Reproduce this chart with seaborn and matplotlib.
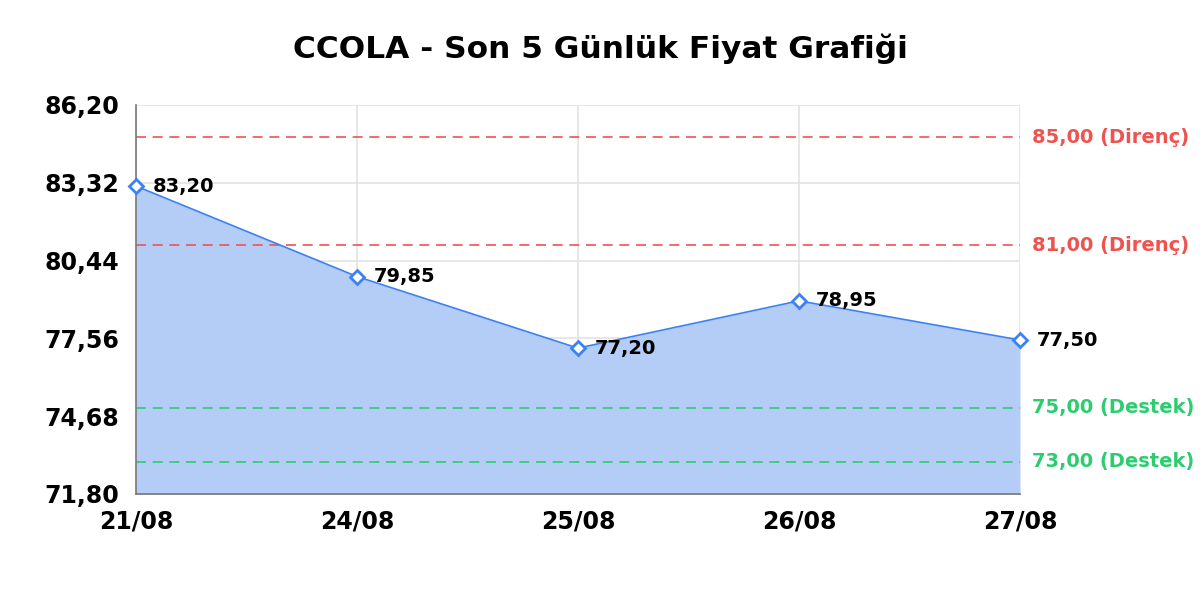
import numpy as np
import pandas as pd
import seaborn as sns
import matplotlib.pyplot as plt

# --- data ---
dates = ['21/08', '24/08', '25/08', '26/08', '27/08']
prices = [83.20, 79.85, 77.20, 78.95, 77.50]
resistance = [85.00, 81.00]
support = [75.00, 73.00]
y_ticks = [71.80, 74.68, 77.56, 80.44, 83.32, 86.20]

df = pd.DataFrame({'pos': range(len(dates)), 'price': prices})

sns.set_theme(style='white')
plt.rcParams['font.family'] = 'sans-serif'
plt.rcParams['font.sans-serif'] = ['DejaVu Sans']
plt.rcParams['text.color'] = 'black'

line_color = '#3b82f6'
fill_color = '#b3cdf7'
red = '#ef5350'
green = '#2ecc71'

fig, ax = plt.subplots(figsize=(12, 6), dpi=100)
fig.subplots_adjust(left=0.1133, right=0.85, top=0.825, bottom=0.1767)

ymin, ymax = y_ticks[0], y_ticks[-1]

# area under the price line
ax.fill_between(df['pos'], df['price'], ymin, color=fill_color, lw=0, zorder=1)
sns.lineplot(data=df, x='pos', y='price', ax=ax, color=line_color, lw=1.2,
             marker='D', markersize=7, markerfacecolor='white',
             markeredgecolor=line_color, markeredgewidth=2, zorder=4, clip_on=False)

# value labels
for x, y in zip(df['pos'], df['price']):
    ax.annotate(f'{y:.2f}'.replace('.', ','), (x, y), xytext=(12, 0),
                textcoords='offset points', va='center', ha='left',
                fontsize=14, fontweight='bold', color='black', zorder=5)

# support / resistance lines
for lvl in resistance:
    ax.axhline(lvl, color=red, ls=(0, (6, 4)), lw=1.2, zorder=2)
    ax.annotate(f'{lvl:.2f}'.replace('.', ',') + ' (Direnç)', (1, lvl),
                xycoords=('axes fraction', 'data'), xytext=(9, 0),
                textcoords='offset points', va='center', ha='left',
                fontsize=14, fontweight='bold', color=red)
for lvl in support:
    ax.axhline(lvl, color=green, ls=(0, (6, 4)), lw=1.2, zorder=2)
    ax.annotate(f'{lvl:.2f}'.replace('.', ',') + ' (Destek)', (1, lvl),
                xycoords=('axes fraction', 'data'), xytext=(9, 0),
                textcoords='offset points', va='center', ha='left',
                fontsize=14, fontweight='bold', color=green)

ax.set_xlim(0, len(dates) - 1)
ax.set_ylim(ymin, ymax)
ax.set_xticks(range(len(dates)))
ax.set_xticklabels(dates)
ax.set_yticks(y_ticks)
ax.set_yticklabels([f'{v:.2f}'.replace('.', ',') for v in y_ticks])
ax.tick_params(axis='both', length=0, labelsize=17, labelcolor='black')
ax.tick_params(axis='y', pad=12)
ax.tick_params(axis='x', pad=11)
for lab in ax.get_xticklabels() + ax.get_yticklabels():
    lab.set_fontweight('bold')
ax.set_xlabel('')
ax.set_ylabel('')

ax.grid(True, color='#e3e3e3', lw=1.2, zorder=0)
ax.set_axisbelow(True)
for side in ['top', 'right']:
    ax.spines[side].set_visible(False)
for side in ['left', 'bottom']:
    ax.spines[side].set_color('#777777')
    ax.spines[side].set_linewidth(1.2)

fig.suptitle('CCOLA - Son 5 Günlük Fiyat Grafiği', fontsize=22.5, fontweight='bold',
             x=0.5, y=0.945, color='black')

plt.savefig('out.png', dpi=100)
plt.close()
